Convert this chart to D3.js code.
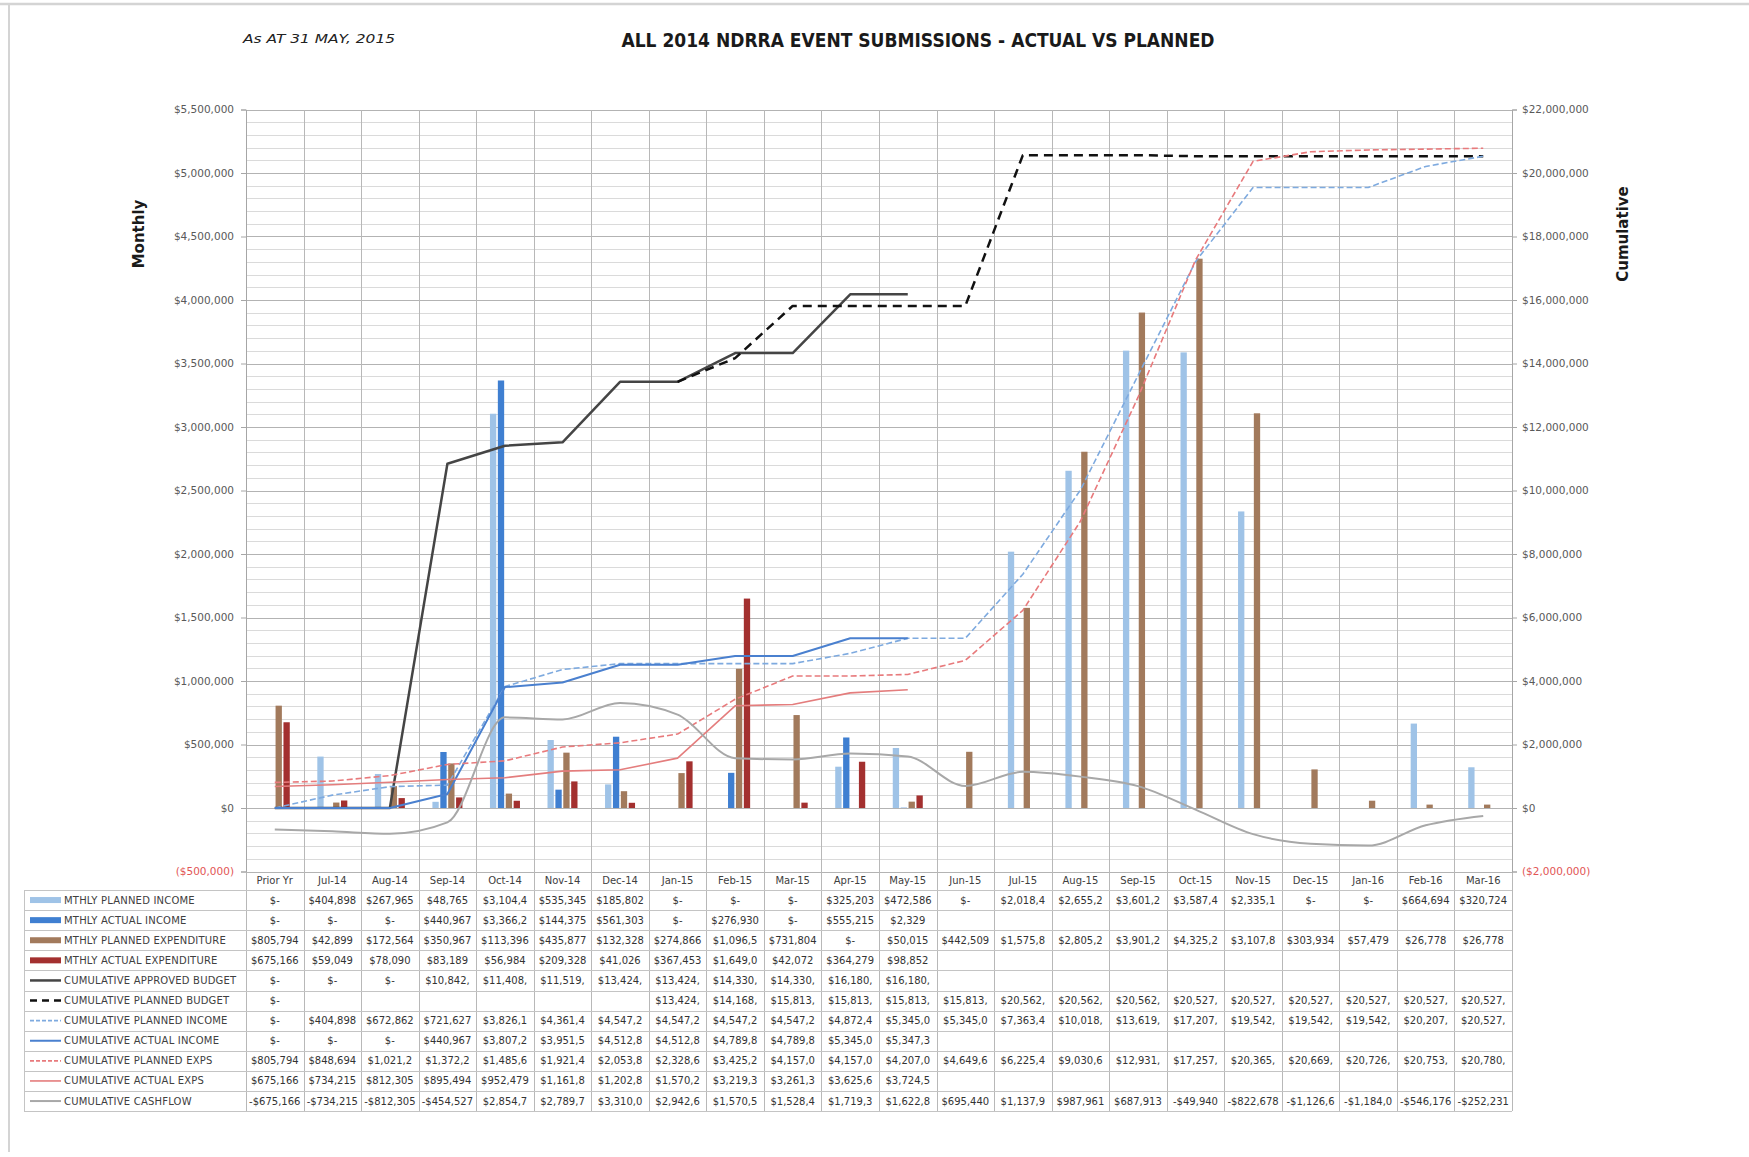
<!DOCTYPE html>
<html>
<head>
<meta charset="utf-8">
<title>ALL 2014 NDRRA EVENT SUBMISSIONS - ACTUAL VS PLANNED</title>
<script src="https://cdn.jsdelivr.net/npm/d3@7"></script>
<style>
  body { margin: 0; background: #fff; }
  svg text { font-family: "DejaVu Sans", sans-serif; }
  .grid line { shape-rendering: crispEdges; }
</style>
</head>
<body>
<script>
var months = ["Prior Yr", "Jul-14", "Aug-14", "Sep-14", "Oct-14", "Nov-14", "Dec-14", "Jan-15",
  "Feb-15", "Mar-15", "Apr-15", "May-15", "Jun-15", "Jul-15", "Aug-15", "Sep-15", "Oct-15",
  "Nov-15", "Dec-15", "Jan-16", "Feb-16", "Mar-16"];

var mthlyPlannedIncome = [0, 404898, 267965, 48765, 3104400, 535345, 185802, 0, 0, 0, 325203,
  472586, 0, 2018400, 2655200, 3601200, 3587400, 2335100, 0, 0, 664694, 320724];
var mthlyActualIncome = [0, 0, 0, 440967, 3366200, 144375, 561303, 0, 276930, 0, 555215, 2329,
  null, null, null, null, null, null, null, null, null, null];
var mthlyPlannedExp = [805794, 42899, 172564, 350967, 113396, 435877, 132328, 274866, 1096500,
  731804, 0, 50015, 442509, 1575800, 2805200, 3901200, 4325200, 3107800, 303934, 57479, 26778, 26778];
var mthlyActualExp = [675166, 59049, 78090, 83189, 56984, 209328, 41026, 367453, 1649000, 42072,
  364279, 98852, null, null, null, null, null, null, null, null, null, null];

var cumApprovedBudget = [0, 0, 0, 10842000, 11408000, 11519000, 13424000, 13424000, 14330000,
  14330000, 16180000, 16180000, null, null, null, null, null, null, null, null, null, null];
var cumPlannedBudget = [0, null, null, null, null, null, null, 13424000, 14168000, 15813000,
  15813000, 15813000, 15813000, 20562000, 20562000, 20562000, 20527000, 20527000, 20527000,
  20527000, 20527000, 20527000];
var cumPlannedIncome = [0, 404898, 672862, 721627, 3826100, 4361400, 4547200, 4547200, 4547200,
  4547200, 4872400, 5345000, 5345000, 7363400, 10018000, 13619000, 17207000, 19542000, 19542000,
  19542000, 20207000, 20527000];
var cumActualIncome = [0, 0, 0, 440967, 3807200, 3951500, 4512800, 4512800, 4789800, 4789800,
  5345000, 5347300, null, null, null, null, null, null, null, null, null, null];
var cumPlannedExps = [805794, 848694, 1021200, 1372200, 1485600, 1921400, 2053800, 2328600,
  3425200, 4157000, 4157000, 4207000, 4649600, 6225400, 9030600, 12931000, 17257000, 20365000,
  20669000, 20726000, 20753000, 20780000];
var cumActualExps = [675166, 734215, 812305, 895494, 952479, 1161800, 1202800, 1570200, 3219300,
  3261300, 3625600, 3724500, null, null, null, null, null, null, null, null, null, null];
var cumCashflow = [-675166, -734215, -812305, -454527, 2854700, 2789700, 3310000, 2942600,
  1570500, 1528400, 1719300, 1622800, 695440, 1137900, 987961, 687913, -49940, -822678,
  -1126600, -1184000, -546176, -252231];

var leftTicks = d3.range(-500000, 5500001, 500000);
var rightTicks = d3.range(-2000000, 22000001, 2000000);

// ---- series setup ----
var barSeries = [
  { name: "MTHLY PLANNED INCOME", values: mthlyPlannedIncome },
  { name: "MTHLY ACTUAL INCOME", values: mthlyActualIncome },
  { name: "MTHLY PLANNED EXPENDITURE", values: mthlyPlannedExp },
  { name: "MTHLY ACTUAL EXPENDITURE", values: mthlyActualExp }
];
var lineSeries = [
  { name: "CUMULATIVE APPROVED BUDGET", values: cumApprovedBudget },
  { name: "CUMULATIVE PLANNED BUDGET", values: cumPlannedBudget },
  { name: "CUMULATIVE PLANNED INCOME", values: cumPlannedIncome },
  { name: "CUMULATIVE ACTUAL INCOME", values: cumActualIncome },
  { name: "CUMULATIVE PLANNED EXPS", values: cumPlannedExps },
  { name: "CUMULATIVE ACTUAL EXPS", values: cumActualExps },
  { name: "CUMULATIVE CASHFLOW", values: cumCashflow }
];
var barColor = {
  "MTHLY PLANNED INCOME": "#9fc3e7",
  "MTHLY ACTUAL INCOME": "#3f7fd1",
  "MTHLY PLANNED EXPENDITURE": "#a27a5c",
  "MTHLY ACTUAL EXPENDITURE": "#a3302f"
};
var lineStyle = {
  "CUMULATIVE APPROVED BUDGET": { color: "#454545", width: 2.5, dash: null },
  "CUMULATIVE PLANNED BUDGET":  { color: "#111111", width: 2.5, dash: "9,6" },
  "CUMULATIVE PLANNED INCOME":  { color: "#7eaadf", width: 1.6, dash: "6,3" },
  "CUMULATIVE ACTUAL INCOME":   { color: "#4a80cf", width: 2, dash: null },
  "CUMULATIVE PLANNED EXPS":    { color: "#e87a7c", width: 1.6, dash: "6,3" },
  "CUMULATIVE ACTUAL EXPS":     { color: "#e47d7d", width: 1.6, dash: null },
  "CUMULATIVE CASHFLOW":        { color: "#a8a8a8", width: 2, dash: null }
};

// ---- layout ----
var W = 1749, H = 1157;
var plotL = 246, plotR = 1512, plotT = 109.5, plotB = 871.5;
var tableT = 890, rowH = 20.1, tableL = 24;

var svg = d3.select("body").append("svg")
  .attr("width", W).attr("height", H);

// outer frame
svg.append("line").attr("x1", 0).attr("x2", W).attr("y1", 4).attr("y2", 4)
  .attr("stroke", "#d4d4d4").attr("stroke-width", 2.5);
svg.append("line").attr("x1", 9).attr("x2", 9).attr("y1", 4).attr("y2", 1152)
  .attr("stroke", "#d4d4d4").attr("stroke-width", 2);

var x = d3.scaleBand().domain(months).range([plotL, plotR]).padding(0);
var cx = function (i) { return x(months[i]) + x.bandwidth() / 2; };
var x1 = d3.scaleBand().domain(barSeries.map(function (s) { return s.name; }))
  .range([-15, 15]).paddingInner(0.2);
var yL = d3.scaleLinear().domain([-500000, 5500000]).range([plotB, plotT]);
var yR = d3.scaleLinear().domain([-2000000, 22000000]).range([plotB, plotT]);

var tableB = tableT + rowH * (barSeries.length + lineSeries.length);

// gridlines
var grid = svg.append("g").attr("class", "grid");
grid.selectAll("line.minor").data(d3.range(-500000, 5500001, 100000)).enter().append("line")
  .attr("class", "minor")
  .attr("x1", plotL).attr("x2", plotR)
  .attr("y1", function (d) { return Math.round(yL(d)) + 0.5; })
  .attr("y2", function (d) { return Math.round(yL(d)) + 0.5; })
  .attr("stroke", function (d) { return d % 500000 === 0 ? "#b3b3b3" : "#dadada"; });
grid.selectAll("line.vert").data(d3.range(months.length + 1)).enter().append("line")
  .attr("class", "vert")
  .attr("x1", function (i) { return Math.round(plotL + i * x.step()) + 0.5; })
  .attr("x2", function (i) { return Math.round(plotL + i * x.step()) + 0.5; })
  .attr("y1", plotT).attr("y2", tableB)
  .attr("stroke", "#b8b8b8");

// table lines
grid.selectAll("line.row").data(d3.range(barSeries.length + lineSeries.length + 1)).enter().append("line")
  .attr("class", "row")
  .attr("x1", tableL).attr("x2", plotR)
  .attr("y1", function (i) { return Math.round(tableT + i * rowH) + 0.5; })
  .attr("y2", function (i) { return Math.round(tableT + i * rowH) + 0.5; })
  .attr("stroke", "#c4c4c4");
grid.append("line").attr("x1", tableL + 0.5).attr("x2", tableL + 0.5)
  .attr("y1", tableT).attr("y2", tableB).attr("stroke", "#c4c4c4");

// axes
var money = d3.format(",");
var axL = svg.append("g").attr("transform", "translate(" + plotL + ",0)")
  .call(d3.axisLeft(yL).tickValues(leftTicks).tickSize(5).tickPadding(7)
    .tickFormat(function (d) { return d < 0 ? "($" + money(-d) + ")" : "$" + money(d); }));
var axR = svg.append("g").attr("transform", "translate(" + plotR + ",0)")
  .call(d3.axisRight(yR).tickValues(rightTicks).tickSize(5).tickPadding(5)
    .tickFormat(function (d) { return d < 0 ? "($" + money(-d) + ")" : "$" + money(d); }));
[axL, axR].forEach(function (ax) {
  ax.select(".domain").attr("stroke", "#a6a6a6");
  ax.selectAll(".tick line").attr("stroke", "#a6a6a6");
  ax.selectAll(".tick text")
    .attr("font-family", "DejaVu Sans, sans-serif")
    .attr("font-size", 10.5)
    .attr("fill", function (d) { return d < 0 ? "#e25555" : "#595959"; });
});

var axB = svg.append("g").attr("transform", "translate(0," + plotB + ")")
  .call(d3.axisBottom(x).tickSize(0).tickPadding(5));
axB.select(".domain").remove();
axB.selectAll(".tick text").attr("font-family", "DejaVu Sans, sans-serif")
  .attr("font-size", 10).attr("fill", "#404040");

// bars
var bars = svg.append("g");
barSeries.forEach(function (s) {
  bars.selectAll(null).data(s.values.map(function (v, i) { return { v: v, i: i }; })
      .filter(function (d) { return d.v != null && d.v > 0; }))
    .enter().append("rect")
    .attr("x", function (d) { return cx(d.i) + x1(s.name); })
    .attr("width", x1.bandwidth())
    .attr("y", function (d) { return yL(d.v); })
    .attr("height", function (d) { return yL(0) - yL(d.v); })
    .attr("fill", barColor[s.name]);
});

// cumulative lines (right axis)
var lines = svg.append("g");
lineSeries.forEach(function (s) {
  var st = lineStyle[s.name];
  var gen = d3.line()
    .defined(function (d) { return d != null; })
    .x(function (d, i) { return cx(i); })
    .y(function (d) { return yR(d); })
    .curve(s.name === "CUMULATIVE CASHFLOW" ? d3.curveMonotoneX : d3.curveLinear);
  lines.append("path")
    .attr("d", gen(s.values))
    .attr("fill", "none")
    .attr("stroke", st.color)
    .attr("stroke-width", st.width)
    .attr("stroke-dasharray", st.dash)
    .attr("stroke-linejoin", "round");
});

// data table
function cellText(v) {
  if (v == null) return "";
  if (v === 0) return "$-";
  var s = ("$" + money(Math.abs(Math.round(v)))).slice(0, 8);
  return v < 0 ? "-" + s : s;
}
var allSeries = barSeries.concat(lineSeries);
var table = svg.append("g");
allSeries.forEach(function (s, r) {
  var yMid = tableT + r * rowH + rowH / 2;
  if (barColor[s.name]) {
    table.append("rect").attr("x", 30).attr("y", yMid - 3).attr("width", 31).attr("height", 6)
      .attr("fill", barColor[s.name]);
  } else {
    var st = lineStyle[s.name];
    table.append("line").attr("x1", 30).attr("x2", 61).attr("y1", yMid).attr("y2", yMid)
      .attr("stroke", st.color).attr("stroke-width", st.width)
      .attr("stroke-dasharray", s.name === "CUMULATIVE PLANNED BUDGET" ? "7,5" : (st.dash ? "4,2" : null));
  }
  table.append("text").attr("x", 64).attr("y", yMid).attr("dy", "0.35em")
    .attr("font-size", 10).attr("letter-spacing", 0.2).attr("fill", "#404040")
    .text(s.name);
  table.selectAll(null).data(s.values).enter().append("text")
    .attr("x", function (d, i) { return cx(i); })
    .attr("y", yMid).attr("dy", "0.35em")
    .attr("text-anchor", "middle")
    .attr("font-size", 10).attr("fill", "#333")
    .text(cellText);
});

// titles
svg.append("text").attr("x", 918).attr("y", 47).attr("text-anchor", "middle")
  .attr("font-family", "Liberation Sans Narrow, DejaVu Sans Condensed, sans-serif")
  .attr("font-weight", "bold").attr("font-size", 19).attr("fill", "#1a1a1a")
  .attr("textLength", 593).attr("lengthAdjust", "spacingAndGlyphs")
  .text("ALL 2014 NDRRA EVENT SUBMISSIONS - ACTUAL VS PLANNED");
svg.append("text").attr("x", 243).attr("y", 43)
  .attr("font-style", "italic").attr("font-size", 12).attr("fill", "#222")
  .attr("textLength", 152).attr("lengthAdjust", "spacingAndGlyphs")
  .text("As AT 31 MAY,  2015");
svg.append("text").attr("transform", "translate(144,234) rotate(-90)")
  .attr("text-anchor", "middle").attr("font-weight", "bold").attr("font-size", 15)
  .attr("fill", "#1a1a1a").text("Monthly");
svg.append("text").attr("transform", "translate(1628,234) rotate(-90)")
  .attr("text-anchor", "middle").attr("font-weight", "bold").attr("font-size", 15)
  .attr("fill", "#1a1a1a").text("Cumulative");
</script>
</body>
</html>
